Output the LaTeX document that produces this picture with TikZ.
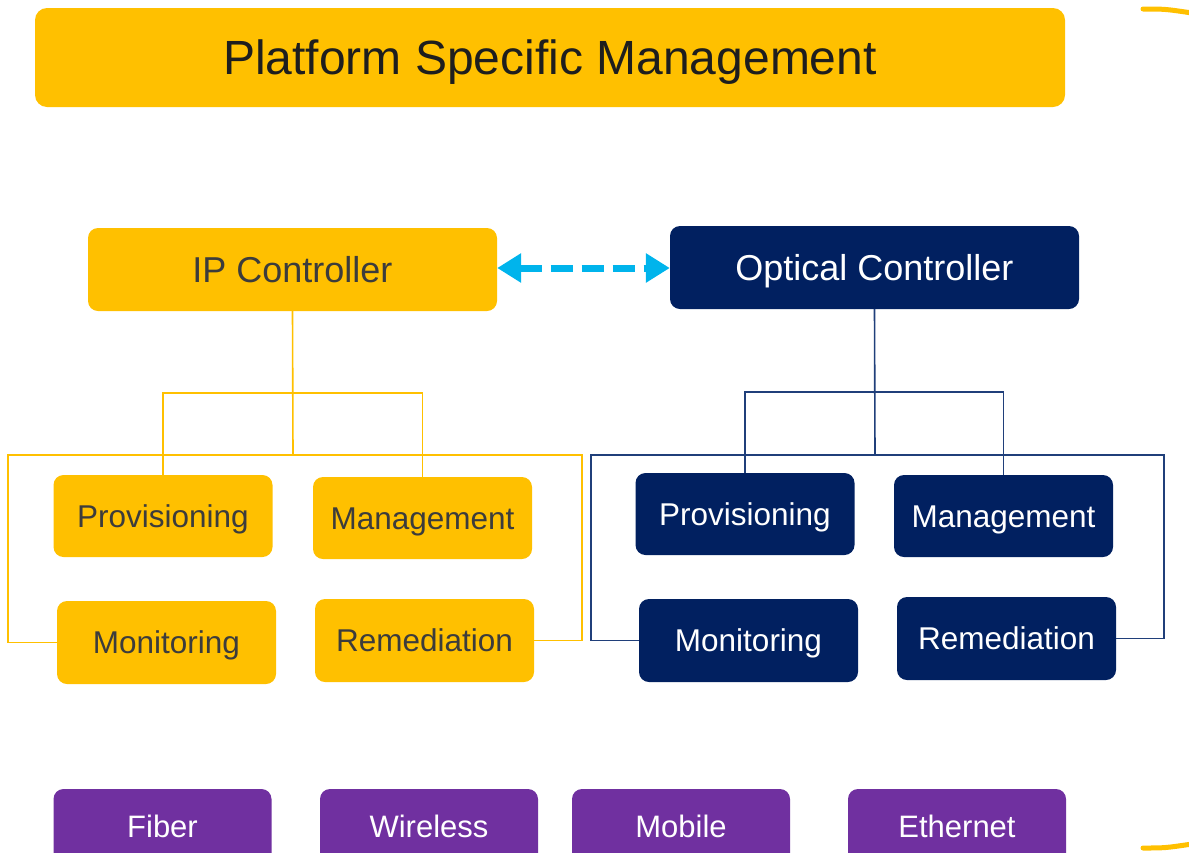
\documentclass[tikz,border=0pt]{standalone}
\usepackage{fontspec}
\setmainfont{Liberation Sans}
\usetikzlibrary{arrows.meta}
\definecolor{ciscoyellow}{HTML}{FFC000}
\definecolor{cisconavy}{HTML}{012060}
\definecolor{navyline}{HTML}{203F7A}
\definecolor{ciscopurple}{HTML}{7030A0}
\definecolor{ciscocyan}{HTML}{00B4EC}
\definecolor{darktext}{HTML}{3C3C3C}
\definecolor{titletext}{HTML}{1E1E1E}
\tikzset{
  box/.style={rounded corners=10pt, inner sep=0pt, text depth=0pt},
  ybox/.style={box, fill=ciscoyellow, text=darktext},
  nbox/.style={box, fill=cisconavy, text=white},
  pbox/.style={box, fill=ciscopurple, text=white, minimum width=218pt, minimum height=74pt, font=\fontsize{31}{36}\selectfont, text height=22.3pt},
  ctrl/.style={minimum width=409pt, minimum height=83pt, font=\fontsize{36}{42}\selectfont, text height=25.9pt},
  task/.style={minimum width=219pt, minimum height=82pt, font=\fontsize{31.5}{36}\selectfont, text height=22.7pt},
  ylink/.style={draw=ciscoyellow, line width=1.6pt},
  nlink/.style={draw=navyline, line width=1.6pt},
  swoosh/.style={draw=ciscoyellow, line width=5pt, line cap=round}
}
\begin{document}
\begin{tikzpicture}[x=1pt,y=-1pt]
\useasboundingbox (0,0) rectangle (1189,852);
\clip (0,0) rectangle (1189,852);
% title
\node[ybox, rounded corners=12pt, minimum width=1030pt, minimum height=99pt, text=titletext, font=\fontsize{48}{56}\selectfont, text height=34.5pt] (title) at (550,57.5) {Platform Specific Management};
% controllers
\node[ybox, ctrl] (ip) at (292.5,269.5) {IP Controller};
\node[nbox, ctrl] (oc) at (874.5,267.5) {Optical Controller};
% IP tasks
\node[ybox, task] (lprov) at (163,516) {Provisioning};
\node[ybox, task] (lmgmt) at (422.5,518) {Management};
\node[ybox, task, minimum height=83pt] (lmon) at (166.5,642.5) {Monitoring};
\node[ybox, task, minimum height=83pt] (lrem) at (424.5,640.5) {Remediation};
% Optical tasks
\node[nbox, task] (rprov) at (745,514) {Provisioning};
\node[nbox, task] (rmgmt) at (1003.5,516) {Management};
\node[nbox, task, minimum height=83pt] (rmon) at (748.5,640.5) {Monitoring};
\node[nbox, task, minimum height=83pt] (rrem) at (1006.5,638.5) {Remediation};
% bottom
\node[pbox] (fiber) at (162.5,826) {Fiber};
\node[pbox] (wireless) at (429,826) {Wireless};
\node[pbox] (mobile) at (681,826) {Mobile};
\node[pbox] (ethernet) at (957,826) {Ethernet};
% IP tree
\coordinate (lh) at (293,393);
\coordinate (ll) at (293,455);
\coordinate (lbl) at (8,455);
\coordinate (lbr) at (582,455);
\draw[ylink] (ip.south) -- (ll);
\draw[ylink] (lprov.north) |- (lh) -| (lmgmt.north);
\draw[ylink] (lmon.west) -| (lbl) -- (lbr) |- (lrem.east);
% Optical tree
\coordinate (rh) at (875,392);
\coordinate (rl) at (875,455);
\coordinate (rbl) at (591,455);
\coordinate (rbr) at (1164,455);
\draw[nlink] (oc.south) -- (rl);
\draw[nlink] (rprov.north) |- (rh) -| (rmgmt.north);
\draw[nlink] (rmon.west) -| (rbl) -- (rbr) |- (rrem.east);
% arrow
\draw[ciscocyan, line width=7pt, dash pattern=on 22pt off 9pt,
  {Triangle[length=24pt,width=28pt]}-{Triangle[length=24pt,width=28pt]}]
  (ip.east |- 0,268) -- (oc.west |- 0,268);
% swooshes
\coordinate (s1a) at (1143,9);
\coordinate (s1b) at (1192,13);
\coordinate (s2a) at (1143,848);
\coordinate (s2b) at (1192,844);
\draw[swoosh] (s1a) .. controls (1165,9) .. (s1b);
\draw[swoosh] (s2a) .. controls (1165,848) .. (s2b);
\end{tikzpicture}
\end{document}
